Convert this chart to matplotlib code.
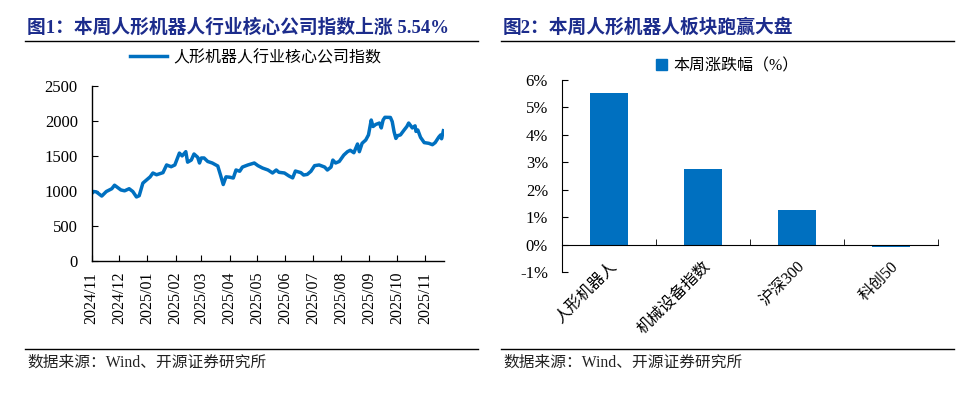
import matplotlib
matplotlib.use("Agg")
import matplotlib.pyplot as plt
import matplotlib.dates as mdates
from matplotlib.lines import Line2D
from matplotlib.patches import Patch
from matplotlib.ticker import FuncFormatter, FixedLocator
import pandas as pd

plt.rcParams['font.family'] = ['Liberation Serif', 'Noto Sans CJK SC', 'DejaVu Sans']
plt.rcParams['axes.unicode_minus'] = False

# --- data: left chart (index level) ---
idx_dates = [
    "2024-11-01", "2024-11-03", "2024-11-06", "2024-11-12", "2024-11-17", "2024-11-23",
    "2024-11-26", "2024-12-03", "2024-12-07", "2024-12-12", "2024-12-16", "2024-12-20",
    "2024-12-23", "2024-12-27", "2024-12-31", "2025-01-04", "2025-01-07", "2025-01-11",
    "2025-01-18", "2025-01-22", "2025-01-27", "2025-01-31", "2025-02-05", "2025-02-08",
    "2025-02-12", "2025-02-14", "2025-02-18", "2025-02-21", "2025-02-25", "2025-02-27",
    "2025-03-01", "2025-03-04", "2025-03-08", "2025-03-13", "2025-03-19", "2025-03-22",
    "2025-03-25", "2025-03-28", "2025-04-01", "2025-04-05", "2025-04-08", "2025-04-12",
    "2025-04-15", "2025-04-21", "2025-04-28", "2025-05-02", "2025-05-07", "2025-05-13",
    "2025-05-18", "2025-05-22", "2025-05-25", "2025-05-31", "2025-06-05", "2025-06-09",
    "2025-06-12", "2025-06-18", "2025-06-21", "2025-06-25", "2025-06-29", "2025-07-03",
    "2025-07-08", "2025-07-14", "2025-07-17", "2025-07-21", "2025-07-23", "2025-07-26",
    "2025-07-30", "2025-08-04", "2025-08-08", "2025-08-11", "2025-08-15", "2025-08-19",
    "2025-08-21", "2025-08-24", "2025-08-28", "2025-08-31", "2025-09-03", "2025-09-05",
    "2025-09-08", "2025-09-12", "2025-09-14", "2025-09-16", "2025-09-18", "2025-09-24",
    "2025-09-26", "2025-09-28", "2025-09-30", "2025-10-02", "2025-10-05", "2025-10-09",
    "2025-10-12", "2025-10-14", "2025-10-18", "2025-10-21", "2025-10-22", "2025-10-24",
    "2025-10-27", "2025-10-31", "2025-11-05", "2025-11-09", "2025-11-12", "2025-11-16",
    "2025-11-18", "2025-11-19", "2025-11-21",
]
idx_values = [
    960, 990, 985, 925, 990, 1030,
    1080, 1012, 1000, 1030, 990, 912,
    930, 1110, 1155, 1200, 1255, 1230,
    1260, 1370, 1345, 1370, 1540, 1500,
    1560, 1410, 1440, 1527, 1480, 1398,
    1470, 1470, 1420, 1398, 1355, 1226,
    1090, 1200, 1195, 1183, 1298, 1280,
    1340, 1370, 1398, 1360, 1326, 1298,
    1255, 1298, 1265, 1255, 1212, 1185,
    1283, 1260, 1226, 1235, 1280, 1360,
    1370, 1340, 1298, 1340, 1440, 1398,
    1420, 1512, 1560, 1580, 1545, 1670,
    1560, 1680, 1727, 1800, 2013, 1920,
    1950, 1970, 1900, 2013, 2052, 2050,
    1990, 1846, 1750, 1790, 1800, 1870,
    1920, 1970, 1900, 1930, 1850, 1870,
    1765, 1690, 1680, 1660, 1690, 1770,
    1800, 1745, 1860,
]
idx_name = "人形机器人行业核心公司指数"

# --- data: right chart (weekly change, %) ---
sectors = ["人形机器人", "机械设备指数", "沪深300", "科创50"]
weekly_chg = [5.54, 2.75, 1.27, -0.08]
bar_name = "本周涨跌幅（%）"

title1 = "图1：本周人形机器人行业核心公司指数上涨 5.54%"
title2 = "图2：本周人形机器人板块跑赢大盘"
source = "数据来源：Wind、开源证券研究所"

BLUE = "#0070C0"
NAVY = "#1C2C8C"
W, H = 978, 396

fig = plt.figure(figsize=(W / 100, H / 100), dpi=100)


def fx(px):
    return px / W


def fy(py):
    return 1 - py / H


def hline(x0, x1, y, lw=1.0):
    fig.add_artist(Line2D([fx(x0), fx(x1)], [fy(y), fy(y)], color="black", lw=lw,
                          transform=fig.transFigure))


# titles, rules, sources
fig.text(fx(27), fy(28), title1, fontsize=13.5, fontweight="bold", color=NAVY, va="center")
fig.text(fx(503), fy(28), title2, fontsize=13.5, fontweight="bold", color=NAVY, va="center")
hline(25, 478, 41)
hline(501, 954, 41)
hline(25, 478, 348.5)
hline(501, 954, 348.5)
fig.text(fx(27), fy(363), source, fontsize=11.3, color="#222222", va="center")
fig.text(fx(503), fy(363), source, fontsize=11.3, color="#222222", va="center")

# ---- left: line chart ----
ax1 = fig.add_axes([fx(91.7), fy(260.7), fx(444.3 - 91.7), (260.7 - 86) / H])
dates = pd.to_datetime(idx_dates)
ax1.plot(dates, idx_values, color=BLUE, lw=2.5, label=idx_name)
ax1.set_ylim(0, 2500)
ax1.set_yticks([0, 500, 1000, 1500, 2000, 2500])
ax1.set_xlim(pd.Timestamp("2024-11-01"), pd.Timestamp("2025-11-22"))
ax1.xaxis.set_major_locator(mdates.MonthLocator())
ax1.xaxis.set_major_formatter(mdates.DateFormatter("%Y/%m"))
for s in ["top", "right"]:
    ax1.spines[s].set_visible(False)
for s in ["left", "bottom"]:
    ax1.spines[s].set_linewidth(1.0)
ax1.tick_params(axis="y", direction="in", length=4, pad=10, labelsize=12)
ax1.tick_params(axis="x", direction="in", length=4, pad=8, labelsize=11.5, labelrotation=90)
ax1.legend(loc="center", bbox_to_anchor=(fx(256), fy(58)), bbox_transform=fig.transFigure,
           frameon=False, fontsize=11.5, handlelength=2.3, handletextpad=0.4)

# ---- right: bar chart ----
ax2 = fig.add_axes([fx(562), fy(272.3), fx(937.7 - 562), (272.3 - 80) / H])
pos = list(range(len(sectors)))
ax2.bar(pos, weekly_chg, width=0.4, color=BLUE, label=bar_name)
ax2.set_ylim(-1, 6)
ax2.set_yticks(range(-1, 7))
ax2.yaxis.set_major_formatter(FuncFormatter(lambda v, p: "%d%%" % v))
ax2.set_xlim(-0.5, len(sectors) - 0.5)
ax2.set_xticks(pos)
ax2.set_xticklabels(sectors)
ax2.xaxis.set_minor_locator(FixedLocator([p + 0.5 for p in pos]))
ax2.spines["bottom"].set_position(("data", 0))
for s in ["top", "right"]:
    ax2.spines[s].set_visible(False)
ax2.tick_params(axis="y", direction="in", length=4, pad=10, labelsize=12)
ax2.tick_params(axis="x", which="major", length=0, pad=10, labelsize=11.5)
ax2.tick_params(axis="x", which="minor", direction="in", length=4)
for lab in ax2.get_xticklabels():
    lab.set_rotation(45)
    lab.set_ha("right")
    lab.set_va("top")
    lab.set_rotation_mode("anchor")
ax2.legend(handles=[Patch(color=BLUE, label=bar_name)], loc="center",
           bbox_to_anchor=(fx(727), fy(66)), bbox_transform=fig.transFigure,
           frameon=False, fontsize=11.5, handlelength=0.7, handleheight=0.7,
           handletextpad=0.4)

fig.savefig("out.png", dpi=100)
